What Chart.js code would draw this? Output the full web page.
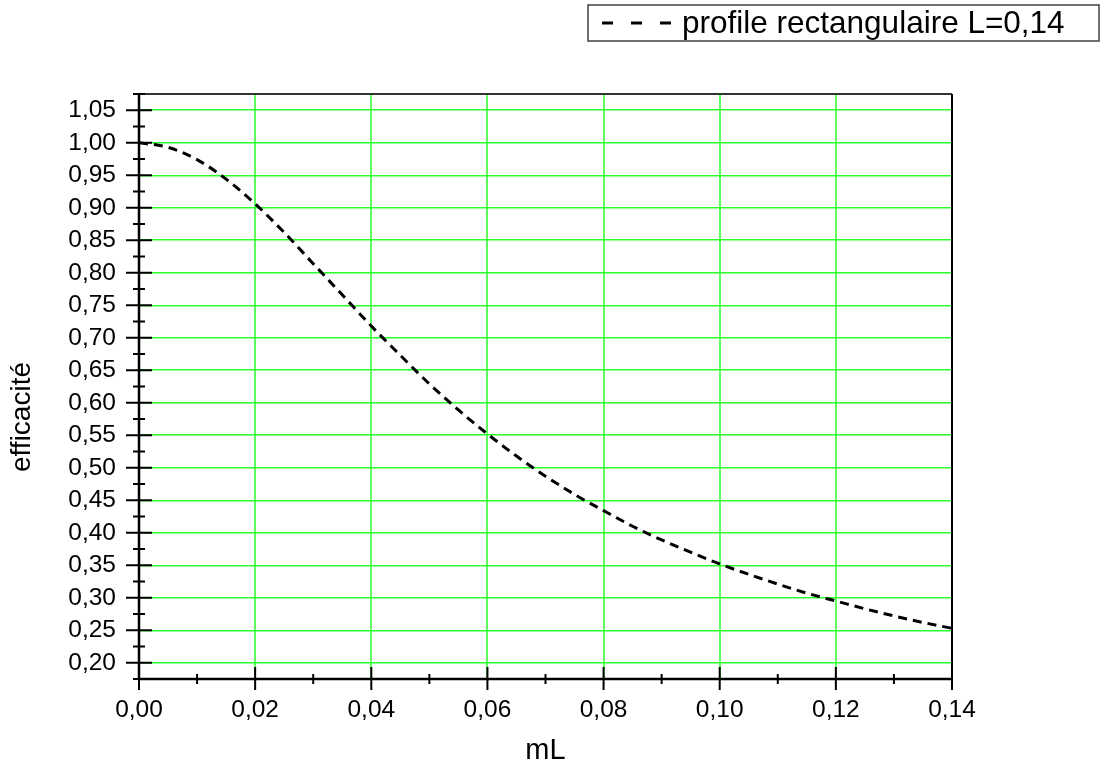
<!DOCTYPE html>
<html>
<head>
<meta charset="utf-8">
<script src="https://cdn.jsdelivr.net/npm/chart.js@4/dist/chart.umd.min.js"></script>
<style>
  html, body { margin: 0; padding: 0; background: #ffffff; }
  #wrap { width: 1104px; height: 765px; }
</style>
</head>
<body>
<div id="wrap"><canvas id="c" width="1104" height="765"></canvas></div>
<script>
// Fin efficiency of a rectangular profile versus mL
const mL = [0, 0.005, 0.01, 0.015, 0.02, 0.025, 0.03, 0.035, 0.04, 0.045, 0.05, 0.055, 0.06, 0.065,
            0.07, 0.075, 0.08, 0.085, 0.09, 0.095, 0.10, 0.105, 0.11, 0.115, 0.12, 0.125, 0.13, 0.135, 0.14];
const efficacite = [1.000, 0.993, 0.974, 0.944, 0.906, 0.862, 0.814, 0.766, 0.718, 0.673, 0.629, 0.589,
                    0.552, 0.518, 0.487, 0.459, 0.434, 0.410, 0.389, 0.370, 0.352, 0.336, 0.321, 0.307,
                    0.295, 0.283, 0.272, 0.262, 0.253];

const xMajorTicks = [0, 0.02, 0.04, 0.06, 0.08, 0.10, 0.12, 0.14];
const xMinorTicks = [0.01, 0.03, 0.05, 0.07, 0.09, 0.11, 0.13];
const yMajorTicks = [0.20, 0.25, 0.30, 0.35, 0.40, 0.45, 0.50, 0.55, 0.60, 0.65, 0.70, 0.75, 0.80,
                     0.85, 0.90, 0.95, 1.00, 1.05];
const yMinorTicks = [0.175, 0.225, 0.275, 0.325, 0.375, 0.425, 0.475, 0.525, 0.575, 0.625, 0.675,
                     0.725, 0.775, 0.825, 0.875, 0.925, 0.975, 1.025, 1.075];

const seriesLabel = 'profile rectangulaire L=0,14';
const xTitle = 'mL';
const yTitle = 'efficacité';

const FONT = '"Liberation Sans", Arial, sans-serif';
const fmt = v => v.toFixed(2).replace('.', ',');

// Axis lines, frame and two-sided tick marks
const axesPlugin = {
  id: 'axesFrame',
  afterDatasetsDraw(chart) {
    const { ctx, chartArea: a, scales: { x, y } } = chart;
    ctx.save();
    ctx.lineCap = 'butt';
    // top frame
    ctx.strokeStyle = '#333333';
    ctx.lineWidth = 2;
    ctx.beginPath();
    ctx.moveTo(a.left, a.top); ctx.lineTo(a.right, a.top);
    ctx.stroke();
    // right frame
    ctx.strokeStyle = '#000000';
    ctx.lineWidth = 2;
    ctx.beginPath();
    ctx.moveTo(a.right, a.top); ctx.lineTo(a.right, a.bottom);
    ctx.stroke();
    // axes
    ctx.lineWidth = 2.5;
    ctx.beginPath();
    ctx.moveTo(a.left, a.top); ctx.lineTo(a.left, a.bottom);
    ctx.moveTo(a.left, a.bottom); ctx.lineTo(a.right, a.bottom);
    ctx.stroke();
    // ticks
    ctx.lineWidth = 2;
    ctx.beginPath();
    xMajorTicks.forEach(v => {
      const px = x.getPixelForValue(v);
      ctx.moveTo(px, a.bottom - 12); ctx.lineTo(px, a.bottom + 11);
    });
    xMinorTicks.forEach(v => {
      const px = x.getPixelForValue(v);
      ctx.moveTo(px, a.bottom - 5); ctx.lineTo(px, a.bottom + 5);
    });
    yMajorTicks.forEach(v => {
      const py = y.getPixelForValue(v);
      ctx.moveTo(a.left - 13, py); ctx.lineTo(a.left + 13, py);
    });
    yMinorTicks.forEach(v => {
      const py = y.getPixelForValue(v);
      ctx.moveTo(a.left - 6, py); ctx.lineTo(a.left + 6, py);
    });
    ctx.stroke();
    ctx.restore();
  },
  afterDraw(chart) {
    const { ctx } = chart;
    ctx.save();
    // vertical axis title
    ctx.fillStyle = '#000000';
    ctx.font = '28px ' + FONT;
    ctx.textAlign = 'center';
    ctx.textBaseline = 'middle';
    ctx.translate(22, 417);
    ctx.rotate(-Math.PI / 2);
    ctx.fillText(yTitle, 0, 0);
    ctx.restore();

    // legend box
    const ds = chart.data.datasets[0];
    ctx.save();
    ctx.strokeStyle = '#404040';
    ctx.lineWidth = 1.5;
    ctx.strokeRect(588, 5, 511, 36);
    ctx.strokeStyle = ds.borderColor;
    ctx.lineWidth = 3;
    ctx.setLineDash([11, 18]);
    ctx.beginPath();
    ctx.moveTo(602, 23); ctx.lineTo(673, 23);
    ctx.stroke();
    ctx.setLineDash([]);
    ctx.fillStyle = '#000000';
    ctx.font = '31.5px ' + FONT;
    ctx.textAlign = 'left';
    ctx.textBaseline = 'alphabetic';
    ctx.fillText(ds.label, 682, 33);
    ctx.restore();
  }
};

new Chart(document.getElementById('c'), {
  type: 'line',
  data: {
    datasets: [{
      label: seriesLabel,
      data: mL.map((v, i) => ({ x: v, y: efficacite[i] })),
      borderColor: '#000000',
      borderWidth: 3,
      borderDash: [9, 6],
      pointRadius: 0,
      fill: false,
      cubicInterpolationMode: 'monotone'
    }]
  },
  options: {
    responsive: false,
    devicePixelRatio: 1,
    animation: false,
    layout: { padding: { left: 0, top: 94, right: 152, bottom: 0 } },
    plugins: { legend: { display: false }, tooltip: { enabled: false } },
    scales: {
      x: {
        type: 'linear',
        min: 0, max: 0.14,
        afterBuildTicks: s => { s.ticks = xMajorTicks.map(v => ({ value: v })); },
        afterFit: s => { s.height = 86; },
        border: { display: false },
        grid: {
          drawTicks: false,
          lineWidth: 2,
          color: c => (c.tick && (c.tick.value === 0 || c.tick.value === 0.14)) ? 'rgba(0,0,0,0)' : '#5cff5c'
        },
        ticks: {
          padding: 17,
          maxRotation: 0,
          color: '#000000',
          font: { family: FONT, size: 24.5 },
          callback: v => fmt(v)
        },
        title: {
          display: true,
          text: xTitle,
          color: '#000000',
          font: { family: FONT, size: 29, lineHeight: 1 },
          padding: { top: 0, bottom: 0 }
        }
      },
      y: {
        type: 'linear',
        min: 0.175, max: 1.075,
        afterBuildTicks: s => { s.ticks = yMajorTicks.map(v => ({ value: v })); },
        afterFit: s => { s.width = 139; },
        border: { display: false },
        grid: { drawTicks: false, lineWidth: 1.5, color: '#2bff2b' },
        ticks: {
          padding: 23,
          color: '#000000',
          font: { family: FONT, size: 24.5 },
          callback: v => fmt(v)
        }
      }
    }
  },
  plugins: [axesPlugin]
});
</script>
</body>
</html>
